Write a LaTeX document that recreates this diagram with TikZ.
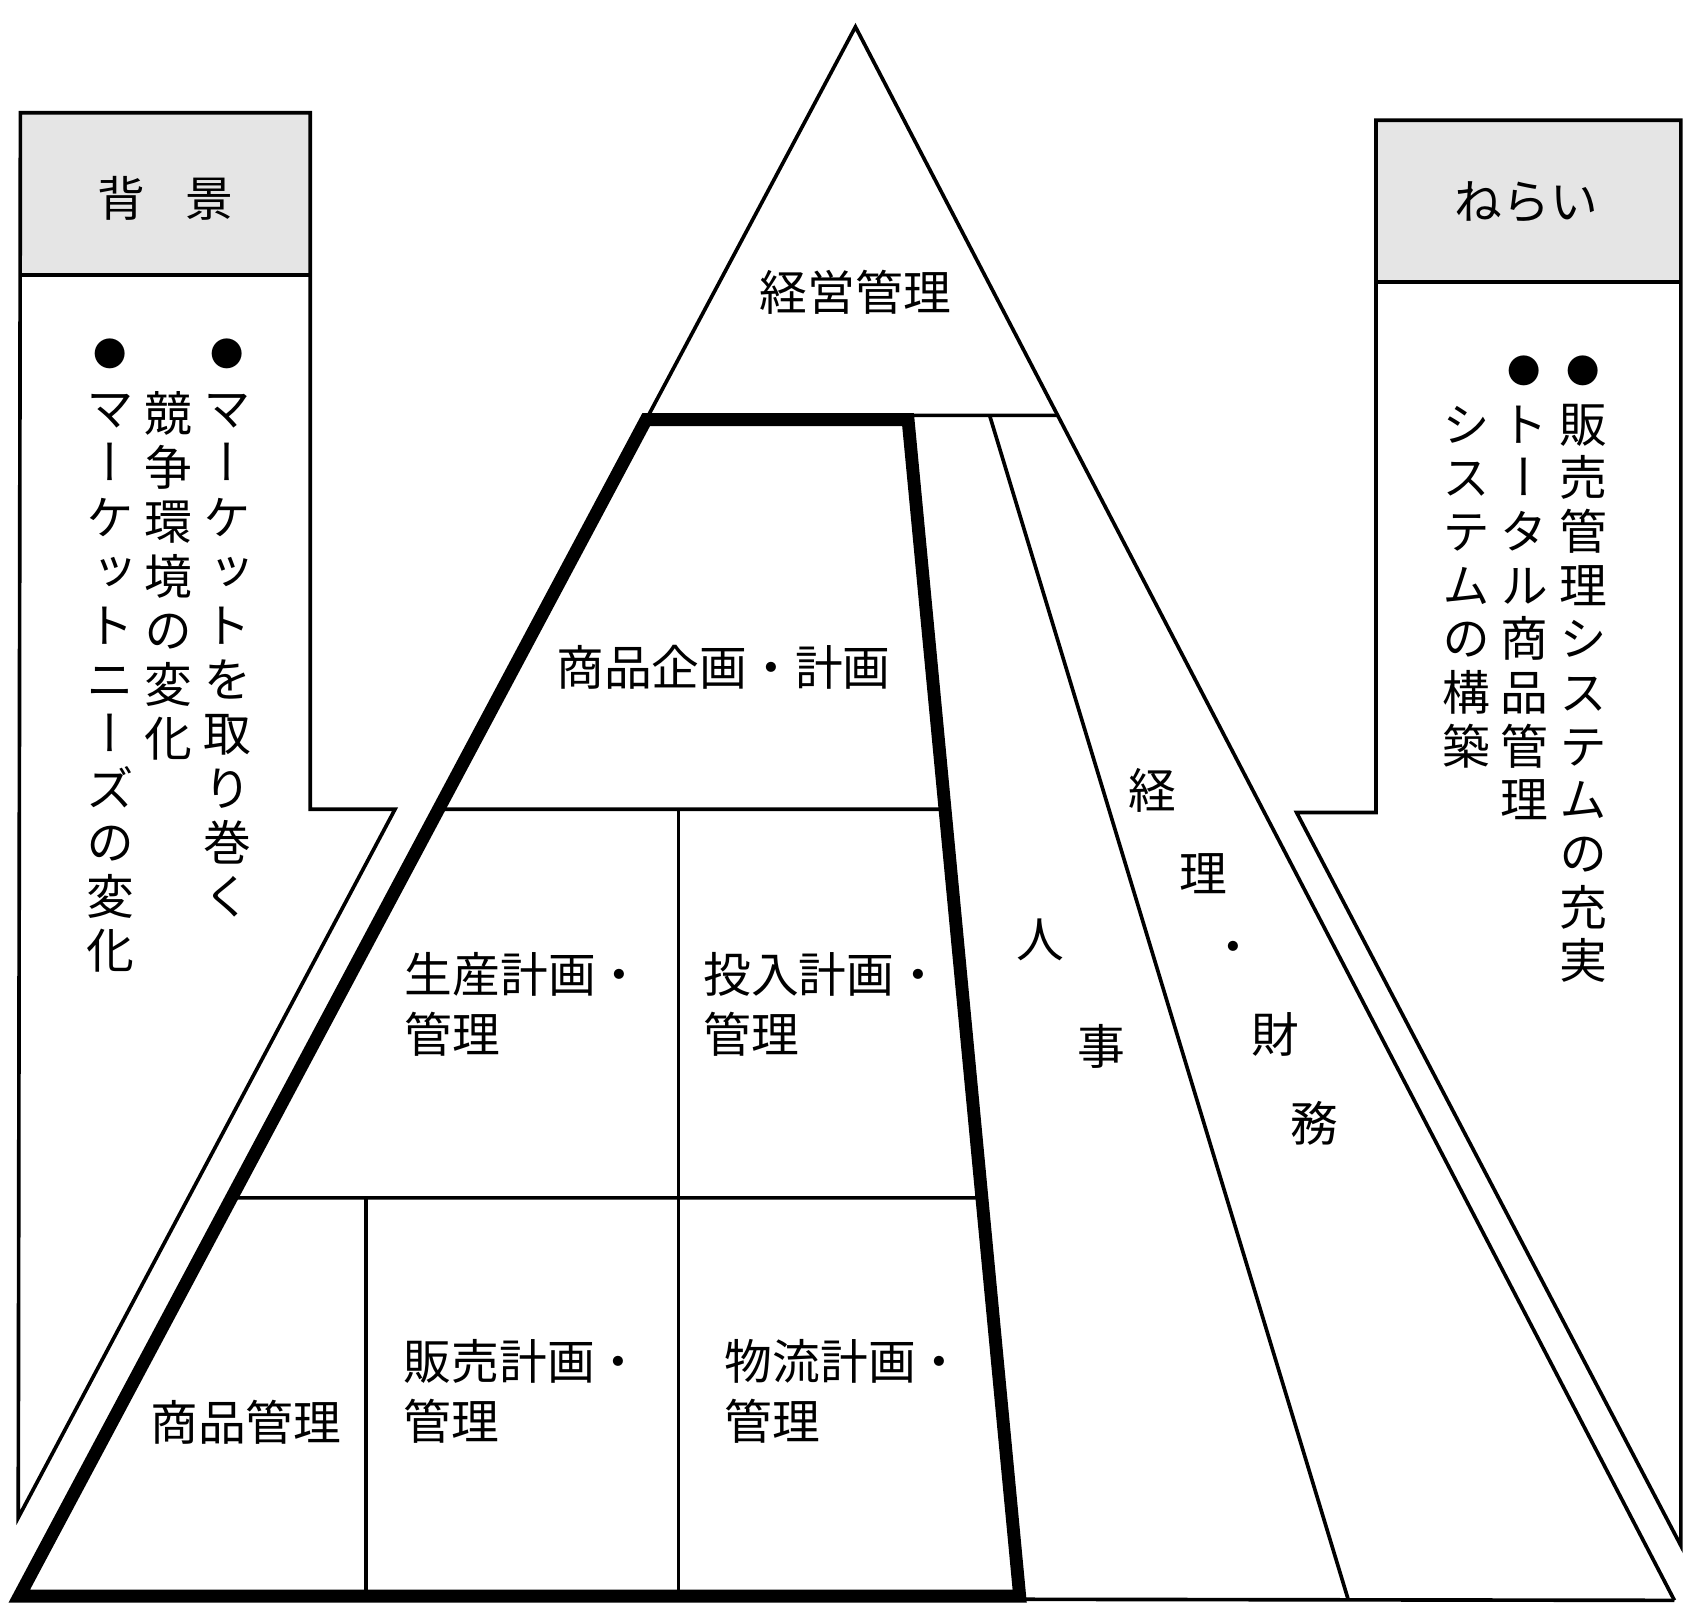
\documentclass[tikz,border=0pt]{standalone}
\usepackage{fontspec}
\setmainfont{Noto Sans CJK JP}
\newfontfamily\vfont[RawFeature={+vert}]{Noto Sans CJK JP}
\usetikzlibrary{calc}
\newcommand\mybul{\raisebox{5.1pt}{\fontsize{31}{31}\selectfont ●}}
\begin{document}
\begin{tikzpicture}[x=1pt,y=-1pt,
  ln/.style={line width=3.4pt, line join=miter},
  tk/.style={line width=12pt, line join=miter},
  hdr/.style={fill=black!10},
  lbl/.style={inner sep=0pt, font=\fontsize{44.5}{56}\selectfont, text height=39.2pt, text depth=5.3pt},
  mlbl/.style={inner sep=0pt, anchor=north west, align=left, font=\fontsize{44.5}{56}\selectfont},
  vch/.style={inner sep=0pt, font=\vfont\fontsize{44.5}{50}\selectfont, text height=39.2pt, text depth=5.3pt}
]
\clip (0,0) rectangle (1568,1493);
\fill[white] (0,0) rectangle (1568,1493);

% ---------- pyramid geometry ----------
\coordinate (apex) at (797,25);
\coordinate (BL) at (18,1487);
\coordinate (BR) at (1560,1491);
\coordinate (TL) at ($(apex)!{(391-25)/1462}!(BL)$);
\coordinate (TLt) at ($(apex)!{(387-25)/1462}!(BL)$);
\coordinate (TRo) at ($(apex)!{(387-25)/1466}!(BR)$);
\coordinate (TR) at (846,391);
\coordinate (BRk) at (950,1487);
\coordinate (BRt) at (950,1490);
\coordinate (H1L) at ($(apex)!{(754-25)/1462}!(BL)$);
\coordinate (H1R) at ($(TR)!{(754-391)/1096}!(BRk)$);
\coordinate (H2L) at ($(apex)!{(1116-25)/1462}!(BL)$);
\coordinate (H2R) at ($(TR)!{(1116-391)/1096}!(BRk)$);
\coordinate (V1t) at (632,754);
\coordinate (V1b) at (632,1487);
\coordinate (V2t) at (341,1116);
\coordinate (V2b) at (341,1487);
\coordinate (S1) at (922,387);
\coordinate (S2) at (1256,1490);

% ---------- side boxes ----------
\fill[hdr] (19,105) rectangle (289,256);
\draw[ln] (19,105) -- (289,105) -- (289,754) -- (368,754) -- (17,1414) -- cycle;
\draw[ln] (19,256) -- (289,256);

\fill[hdr] (1282,112) rectangle (1566,263);
\draw[ln] (1282,112) -- (1566,112) -- (1566,1440) -- (1208,757) -- (1282,757) -- cycle;
\draw[ln] (1282,263) -- (1566,263);

% ---------- pyramid lines ----------
\draw[ln] (TLt) -- (apex) -- (BR);
\draw[ln] (TLt) -- (TRo);
\draw[ln] (BRt) -- (BR);
\draw[ln] (S1) -- (S2);
\draw[ln] (H1L) -- (H1R);
\draw[ln] (H2L) -- (H2R);
\draw[ln] (V1t) -- (V1b);
\draw[ln] (V2t) -- (V2b);
\draw[tk] (TL) -- (TR) -- (BRk) -- (BL) -- cycle;

% ---------- labels ----------
\node[lbl] (haikei) at (154,185) {背\hspace{38pt}景};
\node[lbl] (nerai) at (1422,188) {ねらい};
\node[lbl] (keiei) at (797,272) {経営管理};
\node[lbl] (kikaku) at (674,622) {商品企画・計画};
\node[mlbl] (seisan) at (377,885) {\rule[-0.12em]{0pt}{1em}生産計画・\\\rule[-0.12em]{0pt}{1em}管理};
\node[mlbl] (tonyu) at (655,885) {\rule[-0.12em]{0pt}{1em}投入計画・\\\rule[-0.12em]{0pt}{1em}管理};
\node[mlbl] (hanbai) at (376,1246) {\rule[-0.12em]{0pt}{1em}販売計画・\\\rule[-0.12em]{0pt}{1em}管理};
\node[mlbl] (butsuryu) at (675,1246) {\rule[-0.12em]{0pt}{1em}物流計画・\\\rule[-0.12em]{0pt}{1em}管理};
\node[lbl] (shohin) at (229,1325) {商品管理};

\node[lbl] (jin) at (969,875) {人};
\node[lbl] (ji) at (1026,975) {事};
\node[lbl] (kei) at (1074,736) {経};
\node[lbl] (ri) at (1121,814) {理};
\node[lbl] (dot) at (1149,882) {・};
\node[lbl] (zai) at (1188,964) {財};
\node[lbl] (mu) at (1225,1047) {務};

% ---------- vertical texts ----------
\foreach \c [count=\i] in {\mybul,マ,ー,ケ,ッ,ト,を,取,り,巻,く}
  \node[vch] (la\i) at (212,{330+50.5*(\i-1)}) {\c};
\foreach \c [count=\i] in {競,争,環,境,の,変,化}
  \node[vch] (lb\i) at (157,{385+50.5*(\i-1)}) {\c};
\foreach \c [count=\i] in {\mybul,マ,ー,ケ,ッ,ト,ニ,ー,ズ,の,変,化}
  \node[vch] (lc\i) at (103,{330+50.5*(\i-1)}) {\c};
\foreach \c [count=\i] in {\mybul,販,売,管,理,シ,ス,テ,ム,の,充,実}
  \node[vch] (ra\i) at (1475,{345+50*(\i-1)}) {\c};
\foreach \c [count=\i] in {\mybul,ト,ー,タ,ル,商,品,管,理}
  \node[vch] (rb\i) at (1420,{345+50*(\i-1)}) {\c};
\foreach \c [count=\i] in {シ,ス,テ,ム,の,構,築}
  \node[vch] (rc\i) at (1366,{395+50*(\i-1)}) {\c};
\end{tikzpicture}
\end{document}
